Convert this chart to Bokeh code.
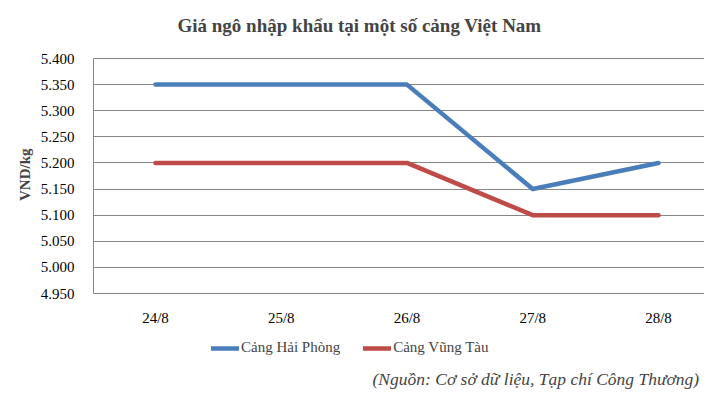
from bokeh.plotting import figure
from bokeh.models import (Range1d, FixedTicker, NumeralTickFormatter, Legend,
                          LegendItem, Title, Label)
from bokeh.embed import file_html
from bokeh.resources import INLINE

# data
days = ["24/8", "25/8", "26/8", "27/8", "28/8"]
hai_phong = [5350, 5350, 5350, 5150, 5200]
vung_tau = [5200, 5200, 5200, 5100, 5100]
y_ticks = [4.950, 5.000, 5.050, 5.100, 5.150, 5.200, 5.250, 5.300, 5.350, 5.400]

title = "Giá ngô nhập khẩu tại một số cảng Việt Nam"
source = "(Nguồn: Cơ sở dữ liệu, Tạp chí Công Thương)"
y_label = "VND/kg"

SERIF = "Liberation Serif"
BLUE = "#4a7ebb"
RED = "#be4b48"
GRID = "#868686"

xs = list(range(len(days)))
hp = [v / 1000 for v in hai_phong]
vt = [v / 1000 for v in vung_tau]

# the frame fills the whole height so the title, legend and note can sit inside it;
# the value area itself is 235px tall, 58px from the top and 97px from the bottom
y_min, y_max = y_ticks[0], y_ticks[-1]
per_px = (y_max - y_min) / 235
y_start = y_min - per_px * 97
y_end = y_max + per_px * 58

p = figure(width=704, height=390, output_backend="svg", toolbar_location=None,
           x_range=Range1d(-0.493, 4.366), y_range=Range1d(y_start, y_end),
           min_border_left=93, min_border_right=0, min_border_top=0,
           min_border_bottom=0)
p.outline_line_color = None

# lines
r1 = p.line(xs, hp, line_color=BLUE, line_width=4.5, line_cap="round", line_join="round")
r2 = p.line(xs, vt, line_color=RED, line_width=4.5, line_cap="round", line_join="round")

# axes
p.xaxis.ticker = FixedTicker(ticks=xs)
p.xaxis.major_label_overrides = {i: d for i, d in enumerate(days)}
p.xaxis.fixed_location = y_min
p.yaxis.ticker = FixedTicker(ticks=y_ticks)
p.yaxis.formatter = NumeralTickFormatter(format="0.000")
p.yaxis.bounds = (y_min, y_max)
for ax in (p.xaxis[0], p.yaxis[0]):
    ax.major_tick_line_color = None
    ax.minor_tick_line_color = None
    ax.major_label_text_font = SERIF
    ax.major_label_text_font_size = "15px"
    ax.major_label_text_color = "black"
    ax.axis_line_color = GRID
p.xaxis.major_label_standoff = 10
p.yaxis.major_label_standoff = 13

p.xgrid.grid_line_color = None
p.ygrid.grid_line_color = GRID
p.ygrid.grid_line_width = 1

# chart title
p.add_layout(Label(x=266, y=365, x_units="screen", y_units="screen", text=title,
                   text_font=SERIF, text_font_style="bold", text_font_size="19px",
                   text_align="center", text_baseline="middle"))

# y axis title, placed 148px from the top
p.add_layout(Title(text=y_label, text_font=SERIF, text_font_style="bold",
                   text_font_size="15px", align="right", offset=148, standoff=9),
             "left")

# legend below the axis
legend = Legend(items=[LegendItem(label="Cảng Hải Phòng", renderers=[r1]),
                       LegendItem(label="Cảng Vũng Tàu", renderers=[r2])],
                orientation="horizontal", location=(118, 34),
                padding=0, margin=0, spacing=23, label_standoff=2,
                glyph_width=28, glyph_height=16, label_height=16,
                label_text_font=SERIF, label_text_font_size="15px",
                border_line_color=None, background_fill_alpha=0)
p.add_layout(legend, "center")

# source note
p.add_layout(Label(x=279, y=12, x_units="screen", y_units="screen", text=source,
                   text_font=SERIF, text_font_style="italic", text_font_size="17.5px",
                   text_align="left", text_baseline="middle"))

open("out.html", "w").write(file_html(p, INLINE))
